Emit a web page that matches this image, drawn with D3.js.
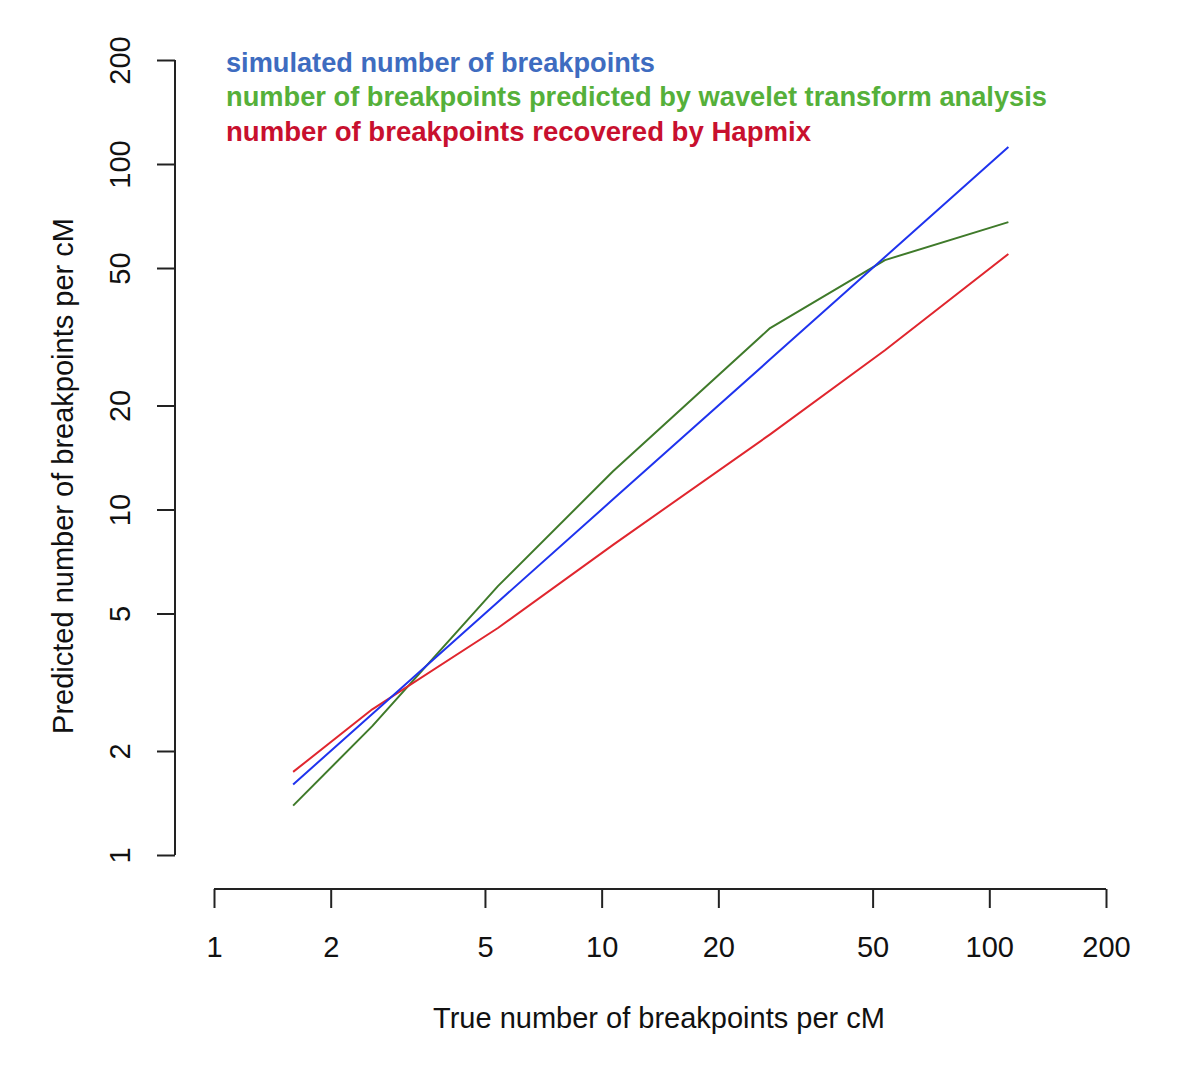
<!DOCTYPE html>
<html>
<head>
<meta charset="utf-8">
<script src="https://cdn.jsdelivr.net/npm/d3@7"></script>
<style>
  html, body { margin: 0; padding: 0; background: #fff; }
  svg { display: block; }
  text { font-family: "Liberation Sans", Arial, Helvetica, sans-serif; }
</style>
</head>
<body>
<svg id="chart" width="1200" height="1069"></svg>
<script>
// Data
const trueBreakpoints = [1.6, 2.56, 5.4, 10.7, 27.2, 53.8, 112];
const simulated       = [1.6, 2.56, 5.4, 10.7, 27.2, 53.8, 112];
const waveletPredicted = [1.39, 2.36, 6.0, 12.9, 33.5, 52.7, 67.9];
const hapmixRecovered  = [1.74, 2.64, 4.54, 7.9, 16.5, 28.9, 54.9];
const tickValues = [1, 2, 5, 10, 20, 50, 100, 200];
const legendLabels = [
  "simulated number of breakpoints",
  "number of breakpoints predicted by wavelet transform analysis",
  "number of breakpoints recovered by Hapmix"
];

const svg = d3.select("#chart");

const x = d3.scaleLog().domain([1, 200]).range([214, 1106]);
const y = d3.scaleLog().domain([1, 200]).range([855, 60]);

const tickFont = 29;

// X axis (R-style, offset below plot)
const xAxis = d3.axisBottom(x).tickValues(tickValues).tickFormat(d3.format("d"))
  .tickSizeOuter(0).tickSize(19).tickPadding(28);
const gx = svg.append("g").attr("transform", "translate(0,889)").call(xAxis);
gx.select(".domain").attr("stroke", "#222").attr("stroke-width", 2)
  .attr("d", `M${x(1)},0H${x(200)}`);
gx.selectAll(".tick line").attr("stroke", "#222").attr("stroke-width", 2);
gx.selectAll(".tick text").attr("font-size", tickFont).attr("fill", "#111")
  .attr("font-family", "Liberation Sans, Arial, sans-serif");

// Y axis
const yAxis = d3.axisLeft(y).tickValues(tickValues).tickFormat(d3.format("d"))
  .tickSizeOuter(0).tickSize(18);
const gy = svg.append("g").attr("transform", "translate(175,0)").call(yAxis);
gy.select(".domain").attr("stroke", "#222").attr("stroke-width", 2)
  .attr("d", `M0,${y(200)}V${y(1)}`);
gy.selectAll(".tick line").attr("stroke", "#222").attr("stroke-width", 2);
gy.selectAll(".tick text")
  .attr("font-size", tickFont).attr("fill", "#111")
  .attr("font-family", "Liberation Sans, Arial, sans-serif")
  .attr("x", null).attr("dy", null)
  .attr("text-anchor", "middle")
  .attr("transform", "translate(-55,0) rotate(-90)")
  .attr("dy", "0.35em");

// Axis titles
svg.append("text")
  .attr("x", 659).attr("y", 1028)
  .attr("text-anchor", "middle").attr("font-size", 29).attr("fill", "#111")
  .text("True number of breakpoints per cM");
svg.append("text")
  .attr("transform", "translate(73,476) rotate(-90)")
  .attr("text-anchor", "middle").attr("font-size", 29).attr("fill", "#111")
  .text("Predicted number of breakpoints per cM");

// Lines
const line = (ys) => d3.line()
  .x((d, i) => x(trueBreakpoints[i]))
  .y(d => y(d))(ys);

const seriesList = [
  { values: waveletPredicted, color: "#3f7a2a" },
  { values: hapmixRecovered, color: "#e0262e" },
  { values: simulated, color: "#1f33ee" }
];
seriesList.forEach(s => {
  svg.append("path")
    .attr("d", line(s.values))
    .attr("fill", "none")
    .attr("stroke", s.color)
    .attr("stroke-width", 2)
    .attr("stroke-linejoin", "round");
});

// Legend
const legendColors = ["#3e6cc0", "#55b03a", "#c8102e"];
const legendWidths = [429, 821, 585];
const legendBaselines = [72, 106, 141];
legendLabels.forEach((t, i) => {
  svg.append("text")
    .attr("x", 226).attr("y", legendBaselines[i])
    .attr("font-size", 27).attr("font-weight", "bold")
    .attr("fill", legendColors[i])
    .attr("textLength", legendWidths[i])
    .attr("lengthAdjust", "spacingAndGlyphs")
    .text(t);
});
</script>
</body>
</html>
